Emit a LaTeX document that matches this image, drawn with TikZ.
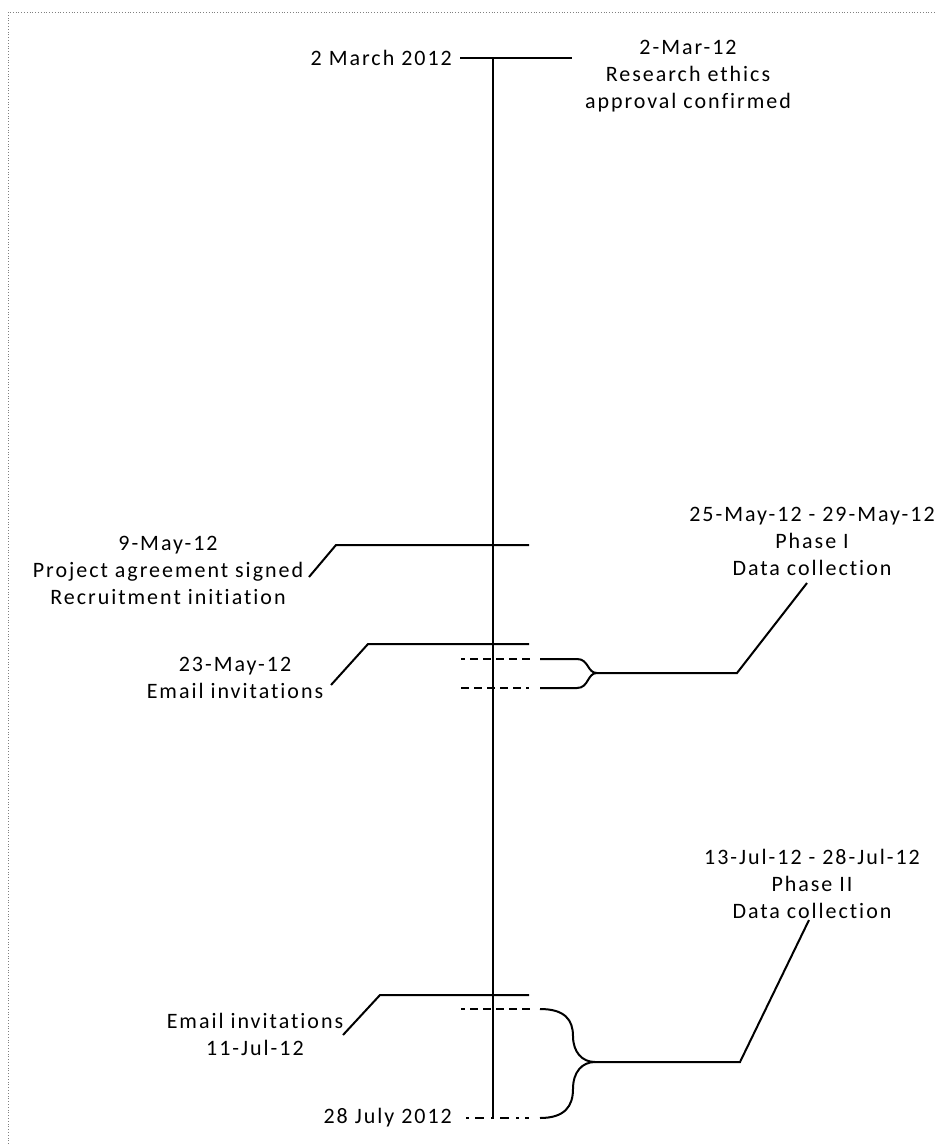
\documentclass[tikz,border=0pt]{standalone}
\usepackage{fontspec}
\setmainfont{Carlito}[LetterSpace=9,Ligatures=NoCommon]
\begin{document}
\begin{tikzpicture}[x=1pt,y=-1pt,
  line/.style={line width=2pt,black},
  dashA/.style={line,dash pattern=on 8pt off 5pt,dash phase=4pt},
  dashB/.style={line,dash pattern=on 8pt off 5pt on 8pt off 5pt on 8pt off 5pt on 8pt off 5pt on 8pt off 5pt on 3pt off 4pt on 10pt},
  lbl/.style={align=center,inner sep=0pt,font=\fontsize{22}{27}\selectfont}]
\useasboundingbox (0,0) rectangle (937,1144);
% frame
\draw[gray,dotted,line width=0.8pt] (8,1144) -- (8,12) -- (937,12);

% time axis
\coordinate (axtop) at (493,58);
\coordinate (axbot) at (493,1118);
\draw[line] (axtop) -- (axbot);

% labels
\node[lbl,anchor=east] (start) at (452,58) {2 March 2012};
\node[lbl,anchor=east] (end) at (452,1118) {28 July 2012};
\node[lbl] (ethics) at (688,76) {2-Mar-12\\Research ethics\\approval confirmed};
\node[lbl] (agree) at (168,570) {9-May-12\\Project agreement signed\\Recruitment initiation};
\node[lbl] (inv1) at (235,678) {23-May-12\\Email invitations};
\node[lbl] (ph1) at (812,541) {25-May-12 - 29-May-12\\Phase I\\Data collection};
\node[lbl] (ph2) at (812,884) {13-Jul-12 - 28-Jul-12\\Phase II\\Data collection};
\node[lbl] (inv2) at (255,1034) {Email invitations\\11-Jul-12};

% 2 March tick
\coordinate (t0a) at (460,58);
\coordinate (t0b) at (572,58);
\draw[line] (t0a) -- (t0b);

% 9 May tick
\coordinate (t1k) at (336,545);
\coordinate (t1e) at (529,545);
\coordinate (t1d) at (309,577);
\draw[line] (t1d) -- (t1k) -- (t1e);

% 23 May tick
\coordinate (t2k) at (368,644);
\coordinate (t2e) at (529,644);
\coordinate (t2d) at (331,685);
\draw[line] (t2d) -- (t2k) -- (t2e);

% Phase I span
\coordinate (p1s) at (461,659);
\coordinate (p1e) at (530,688);
\draw[dashA] (p1s) -- (530,659);
\draw[dashB] (461,688) -- (p1e);
\coordinate (b1tip) at (597,673);
\coordinate (b1k) at (737,673);
\coordinate (b1d) at (807,583);
\draw[line] (540,659) -- (577,659) .. controls (589,659) and (587,673) .. (b1tip);
\draw[line] (540,688) -- (577,688) .. controls (589,688) and (587,673) .. (b1tip);
\draw[line] (b1tip) -- (b1k) -- (b1d);

% 11 July tick
\coordinate (t3k) at (380,995);
\coordinate (t3e) at (529,995);
\coordinate (t3d) at (343,1035);
\draw[line] (t3d) -- (t3k) -- (t3e);

% Phase II span
\draw[dashA] (461,1009) -- (530,1009);
\draw[line,dash pattern=on 9pt off 7pt on 3pt off 6pt,dash phase=12pt] (462,1118) -- (529,1118);
\coordinate (b2tip) at (595,1062);
\coordinate (b2k) at (740,1062);
\coordinate (b2d) at (809,920);
\draw[line] (540,1009) .. controls (565,1009) and (573,1020) .. (573,1036)
  .. controls (573,1052) and (582,1062) .. (b2tip);
\draw[line] (540,1118) .. controls (565,1118) and (573,1106) .. (573,1089)
  .. controls (573,1072) and (582,1062) .. (b2tip);
\draw[line] (b2tip) -- (b2k) -- (b2d);
\end{tikzpicture}
\end{document}
